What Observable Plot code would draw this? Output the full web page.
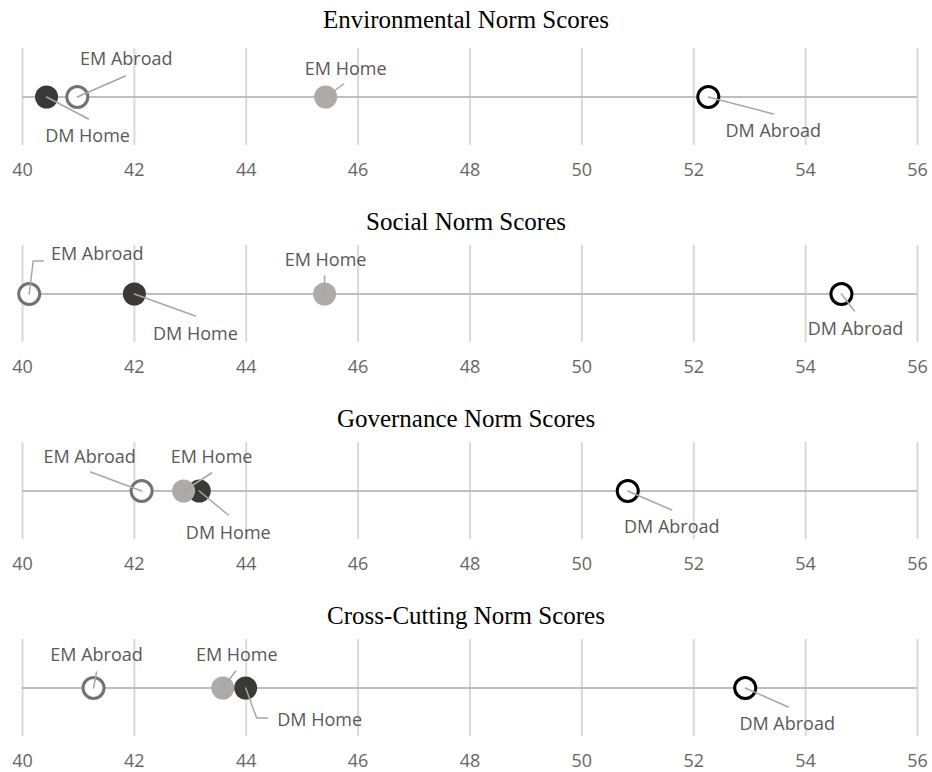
<!DOCTYPE html>
<html>
<head>
<meta charset="utf-8">
<script src="https://cdn.jsdelivr.net/npm/d3@7"></script>
<script src="https://cdn.jsdelivr.net/npm/@observablehq/plot@0.6"></script>
<style>
  html, body { margin: 0; padding: 0; background: #fff; }
  #chart { width: 932px; padding-top: 7px; }
  .ptitle { font-family: "Liberation Serif", "Times New Roman", serif; font-size: 25px; color: #000;
            text-align: center; height: 26px; line-height: 26px; }
  svg { display: block; }
</style>
</head>
<body>
<div id="chart"></div>
<script>
// ---- data ----
const panelTitles = ["Environmental Norm Scores", "Social Norm Scores", "Governance Norm Scores", "Cross-Cutting Norm Scores"];
const seriesNames = ["DM Home", "EM Home", "DM Abroad", "EM Abroad"];
const environmentalScores = [40.43, 45.42, 52.26, 40.98];
const socialScores        = [42.00, 45.40, 54.64, 40.12];
const governanceScores    = [43.16, 42.88, 50.82, 42.13];
const crossCuttingScores  = [43.99, 43.58, 52.92, 41.27];
const tickValues = [40, 42, 44, 46, 48, 50, 52, 54, 56];

// ---- styling ----
const seriesStyle = {
  "DM Home":   {fill: "#3b3838", stroke: "none", hollow: false},
  "EM Home":   {fill: "#aeaaaa", stroke: "none", hollow: false},
  "DM Abroad": {fill: "#ffffff", stroke: "#000000", hollow: true},
  "EM Abroad": {fill: "#ffffff", stroke: "#767171", hollow: true}
};

// label layout: pixel offsets from the marker centre (text centre, leader path)
const labelLayout = [
  { "DM Home":   {t: [41, 39],  p: [[0,0],[42,22]]},
    "EM Home":   {t: [20, -28], p: [[0,0],[18,-13]]},
    "DM Abroad": {t: [65, 34],  p: [[0,0],[65,17]]},
    "EM Abroad": {t: [49, -38], p: [[0,0],[48,-21]]} },
  { "DM Home":   {t: [61, 40],  p: [[0,0],[61,22]]},
    "EM Home":   {t: [1, -34],  p: [[0,0],[0,-18]]},
    "DM Abroad": {t: [14, 35],  p: [[0,0],[13,17]]},
    "EM Abroad": {t: [68, -40], p: [[0,0],[4,-33],[14,-33]]} },
  { "DM Home":   {t: [29, 42],  p: [[0,0],[29,24]]},
    "EM Home":   {t: [28, -34], p: [[0,0],[28,-18]]},
    "DM Abroad": {t: [44, 36],  p: [[0,0],[44,19]]},
    "EM Abroad": {t: [-52, -34], p: [[0,0],[-51,-19]]} },
  { "DM Home":   {t: [74, 32],  p: [[0,0],[11,30],[22,30]]},
    "EM Home":   {t: [14, -33], p: [[0,0],[13,-17]]},
    "DM Abroad": {t: [42, 36],  p: [[0,0],[43,19]]},
    "EM Abroad": {t: [3, -33],  p: [[0,0],[3,-16]]} }
];

const panelValues = [environmentalScores, socialScores, governanceScores, crossCuttingScores];

const W = 932, H = 171, mL = 22, mR = 15, mT = 10, mB = 64;
const xMin = tickValues[0], xMax = tickValues[tickValues.length - 1];
const kx = (W - mL - mR) / (xMax - xMin);
const ky = (H - mT - mB) / 2;

const chart = document.getElementById("chart");

panelValues.forEach((vals, pi) => {
  const rows = seriesNames.map((s, i) => ({series: s, value: vals[i]}));
  const layout = labelLayout[pi];
  const labels = rows.map(r => {
    const L = layout[r.series];
    return {series: r.series, x: r.value + L.t[0] / kx, y: -L.t[1] / ky};
  });
  const leaders = [];
  rows.forEach(r => {
    layout[r.series].p.forEach(([dx, dy]) => leaders.push({series: r.series, x: r.value + dx / kx, y: -dy / ky}));
  });
  const filled = rows.filter(r => !seriesStyle[r.series].hollow);
  const hollow = rows.filter(r => seriesStyle[r.series].hollow);

  const title = document.createElement("div");
  title.className = "ptitle";
  title.textContent = panelTitles[pi];
  if (pi === 0) title.style.marginBottom = "5px";
  chart.appendChild(title);

  const plot = Plot.plot({
    width: W, height: H,
    marginLeft: mL, marginRight: mR, marginTop: mT, marginBottom: mB,
    x: {domain: [xMin, xMax], ticks: tickValues, tickSize: 0, tickPadding: 18, label: null},
    y: {domain: [-1, 1], axis: null},
    style: {fontFamily: "'Open Sans', sans-serif", fontSize: "18px", color: "#595959", background: "#fff"},
    marks: [
      Plot.ruleX(tickValues, {y1: -1, y2: 1, stroke: "#d9d9d9", strokeWidth: 2}),
      Plot.ruleY([0], {x1: xMin, x2: xMax, stroke: "#bfbfbf", strokeWidth: 2}),
      Plot.axisX({ticks: tickValues, tickSize: 0, tickPadding: 18, fill: "#666666", fontSize: 18, label: null}),
      Plot.dot(filled, {x: "value", y: 0, r: 11.5, fill: d => seriesStyle[d.series].fill, stroke: "none"}),
      Plot.dot(hollow, {x: "value", y: 0, r: 10.5, fill: "#ffffff", stroke: d => seriesStyle[d.series].stroke, strokeWidth: 3}),
      Plot.line(leaders, {x: "x", y: "y", z: "series", stroke: "#a6a6a6", strokeWidth: 1.5}),
      Plot.text(labels, {x: "x", y: "y", text: "series", fill: "#595959", fontSize: 18, fontFamily: "'Open Sans', sans-serif"})
    ]
  });
  chart.appendChild(plot);
});
</script>
</body>
</html>
